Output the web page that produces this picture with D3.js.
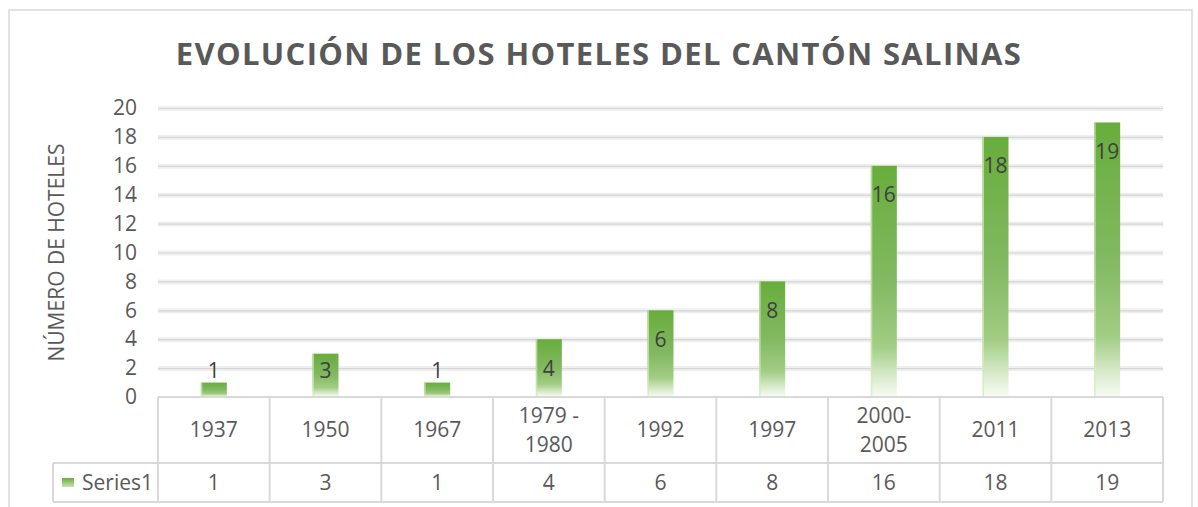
<!DOCTYPE html>
<html>
<head>
<meta charset="utf-8">
<script src="https://cdn.jsdelivr.net/npm/d3@7"></script>
<style>
  body { margin: 0; background: #fff; }
  text { font-family: "Open Sans", sans-serif; fill: #595959; }
</style>
</head>
<body>
<div class="chart"></div>
<script>
// Data
let categories = [["1937"], ["1950"], ["1967"], ["1979 -", "1980"], ["1992"], ["1997"], ["2000-", "2005"], ["2011"], ["2013"]];
let values = [1, 3, 1, 4, 6, 8, 16, 18, 19];
let yTicks = [0, 2, 4, 6, 8, 10, 12, 14, 16, 18, 20];
let seriesName = "Series1";

let svgWidth = 1198;
let svgHeight = 507;

let margin = { top: 108, left: 158, right: 35 };
let width = 1163 - margin.left;
let height = 397 - margin.top;
let rowCat = 66;
let rowVal = 39;
let fontSize = "21px";

let svg = d3.select(".chart")
    .append("svg")
    .attr("width", svgWidth)
    .attr("height", svgHeight);

// gradient for each bar, fading to white near its base
let defs = svg.append("defs");
let grad = defs.append("linearGradient")
    .attr("id", "barGrad")
    .attr("x1", 0).attr("x2", 0)
    .attr("y1", 0).attr("y2", 1);
grad.append("stop").attr("offset", "0").attr("stop-color", "#68ad3c");
grad.append("stop").attr("offset", "0.5").attr("stop-color", "#82b962");
grad.append("stop").attr("offset", "0.78").attr("stop-color", "#a2cd84");
grad.append("stop").attr("offset", "0.92").attr("stop-color", "#dcecd0");
grad.append("stop").attr("offset", "1").attr("stop-color", "#f8fcf4");

let legGrad = defs.append("linearGradient")
    .attr("id", "legGrad").attr("x1", 0).attr("x2", 0).attr("y1", 0).attr("y2", 1);
legGrad.append("stop").attr("offset", "0").attr("stop-color", "#6aae3e");
legGrad.append("stop").attr("offset", "1").attr("stop-color", "#c6e2b0");

// chart border
svg.append("rect")
    .attr("x", 9).attr("y", 10)
    .attr("width", 1183).attr("height", 520)
    .attr("fill", "none")
    .attr("stroke", "#d9d9d9")
    .attr("stroke-width", 1.5);

// title
svg.append("text")
    .attr("x", 599)
    .attr("y", 65)
    .attr("text-anchor", "middle")
    .style("font-size", "31px")
    .style("font-weight", "700")
    .style("letter-spacing", "1.35px")
    .text("EVOLUCIÓN DE LOS HOTELES DEL CANTÓN SALINAS");

let chartGroup = svg.append("g")
    .attr("transform", `translate(${margin.left}, ${margin.top})`);

let xBand = d3.scaleBand()
    .domain(d3.range(categories.length))
    .range([0, width])
    .padding(0);

let yLinearScale = d3.scaleLinear()
    .domain([0, 20])
    .range([height, 0]);

// gridlines
let grid = chartGroup.append("g")
    .call(d3.axisLeft(yLinearScale).tickValues(yTicks.slice(1)).tickSize(-width).tickFormat(""));
grid.select(".domain").remove();
grid.selectAll("line").attr("stroke", "#efefef").attr("stroke-width", 5);
let grid2 = chartGroup.append("g")
    .call(d3.axisLeft(yLinearScale).tickValues(yTicks.slice(1)).tickSize(-width).tickFormat(""));
grid2.select(".domain").remove();
grid2.selectAll("line").attr("stroke", "#d6d6d6").attr("stroke-width", 1.2);

// y axis labels
let yAxis = chartGroup.append("g")
    .call(d3.axisLeft(yLinearScale).tickValues(yTicks).tickSize(0).tickPadding(21));
yAxis.select(".domain").remove();
yAxis.selectAll("text")
    .style("font-size", fontSize)
    .style("font-family", "Open Sans")
    .attr("fill", "#595959");

// y axis title
svg.append("text")
    .attr("transform", `translate(64, ${margin.top + height / 2}) rotate(-90)`)
    .attr("text-anchor", "middle")
    .style("font-size", fontSize)
    .text("NÚMERO DE HOTELES");

// bars
let barW = 26;
chartGroup.selectAll("rect.bar")
    .data(values)
    .enter()
    .append("rect")
    .attr("class", "bar")
    .attr("x", (d, i) => xBand(i) + (xBand.bandwidth() - barW) / 2)
    .attr("y", d => yLinearScale(d))
    .attr("width", barW)
    .attr("height", d => height - yLinearScale(d))
    .attr("fill", "url(#barGrad)");

// thin light edge on the left of each bar
chartGroup.selectAll("rect.edge")
    .data(values)
    .enter()
    .append("rect")
    .attr("class", "edge")
    .attr("x", (d, i) => xBand(i) + (xBand.bandwidth() - barW) / 2)
    .attr("y", d => yLinearScale(d))
    .attr("width", 1.5)
    .attr("height", d => height - yLinearScale(d))
    .attr("fill", "#d2ecb4")
    .attr("opacity", 0.7);

// data labels
chartGroup.selectAll("text.lbl")
    .data(values)
    .enter()
    .append("text")
    .attr("class", "lbl")
    .attr("x", (d, i) => xBand(i) + xBand.bandwidth() / 2)
    .attr("y", d => Math.min(yLinearScale(d) + 29, height - 26))
    .attr("dy", "0.35em")
    .attr("text-anchor", "middle")
    .style("font-size", fontSize)
    .style("fill", "#404040")
    .text(d => d);

// data table
let table = chartGroup.append("g")
    .attr("transform", `translate(0, ${height})`);
let gridColor = "#d9d9d9";

// horizontal lines
table.append("line").attr("x1", 0).attr("x2", width).attr("y1", 0).attr("y2", 0)
    .attr("stroke", gridColor).attr("stroke-width", 2);
table.append("line").attr("x1", -105).attr("x2", width).attr("y1", rowCat).attr("y2", rowCat)
    .attr("stroke", gridColor).attr("stroke-width", 2);
table.append("line").attr("x1", -105).attr("x2", width).attr("y1", rowCat + rowVal).attr("y2", rowCat + rowVal)
    .attr("stroke", gridColor).attr("stroke-width", 2);

// vertical lines
d3.range(categories.length + 1).forEach(function(i) {
    let x = i < categories.length ? xBand(i) : width;
    table.append("line").attr("x1", x).attr("x2", x)
        .attr("y1", 0).attr("y2", rowCat + rowVal)
        .attr("stroke", gridColor).attr("stroke-width", 2);
});
table.append("line").attr("x1", -105).attr("x2", -105)
    .attr("y1", rowCat).attr("y2", rowCat + rowVal)
    .attr("stroke", gridColor).attr("stroke-width", 2);

// category labels
categories.forEach(function(lines, i) {
    let t = table.append("text")
        .attr("x", xBand(i) + xBand.bandwidth() / 2)
        .attr("text-anchor", "middle")
        .style("font-size", fontSize);
    let startY = rowCat / 2 - (lines.length - 1) * 14.5;
    lines.forEach(function(l, j) {
        t.append("tspan")
            .attr("x", xBand(i) + xBand.bandwidth() / 2)
            .attr("y", startY + j * 29)
            .attr("dy", "0.35em")
            .text(l);
    });
});

// value row
table.selectAll("text.val")
    .data(values)
    .enter()
    .append("text")
    .attr("class", "val")
    .attr("x", (d, i) => xBand(i) + xBand.bandwidth() / 2)
    .attr("y", rowCat + rowVal / 2)
    .attr("dy", "0.35em")
    .attr("text-anchor", "middle")
    .style("font-size", fontSize)
    .text(d => d);

// legend key
table.append("rect")
    .attr("x", -96).attr("y", rowCat + 15)
    .attr("width", 12).attr("height", 9)
    .attr("fill", "url(#legGrad)");
table.append("text")
    .attr("x", -76)
    .attr("y", rowCat + rowVal / 2)
    .attr("dy", "0.35em")
    .style("font-size", fontSize)
    .text(seriesName);
</script>
</body>
</html>
